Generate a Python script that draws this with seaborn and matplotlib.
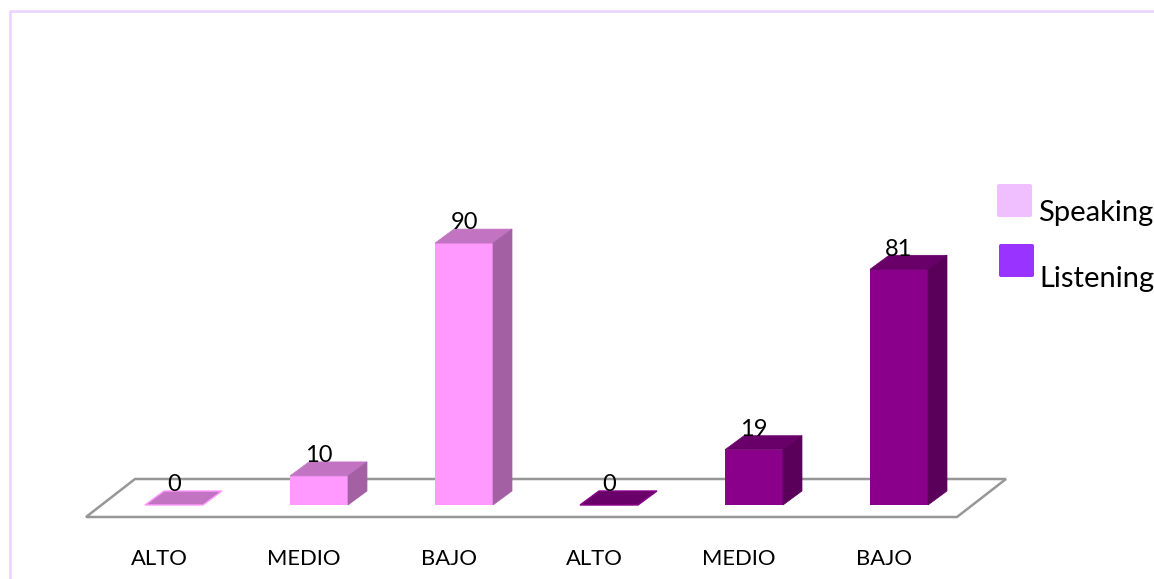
import matplotlib
matplotlib.use("Agg")
import matplotlib.pyplot as plt
import pandas as pd
import seaborn as sns
from matplotlib.patches import FancyBboxPatch, Polygon
from matplotlib.transforms import Affine2D, IdentityTransform, ScaledTranslation

levels = ["ALTO", "MEDIO", "BAJO"]
speaking = [0, 10, 90]
listening = [0, 19, 81]
skills = ["Speaking", "Listening"]

front_colors = {"Speaking": "#FF99FF", "Listening": "#8B008B"}
top_colors = {"Speaking": "#C274C2", "Listening": "#690069"}
side_colors = {"Speaking": "#A361A3", "Listening": "#5A005A"}
legend_colors = {"Speaking": "#F0BFFF", "Listening": "#9933FF"}

W, H = 1154, 579
DEPTH_X, DEPTH_Y = 19, 14

sns.set_style("white")
plt.rcParams["font.family"] = ["Lato", "DejaVu Sans"]

df = pd.DataFrame({
    "slot": range(6),
    "level": levels + levels,
    "skill": ["Speaking"] * 3 + ["Listening"] * 3,
    "value": speaking + listening,
})

fig = plt.figure(figsize=(W / 100, H / 100), dpi=100)
ax = fig.add_axes([101.5 / W, (H - 505) / H, 870 / W, 291 / H])
ax.patch.set_alpha(0)

sns.barplot(
    data=df, x="slot", y="value", hue="skill", hue_order=skills,
    palette=front_colors, saturation=1, dodge=False, width=0.4, legend=False,
    linewidth=0, ax=ax, zorder=3,
)

ax.set_xlim(-0.5, 5.5)
ax.set_ylim(0, 100)
ax.set_xlabel("")
ax.set_ylabel("")
ax.set_yticks([])
ax.set_xticks(df["slot"])
ax.set_xticklabels(df["level"], fontsize=15.8, color="black")
ax.tick_params(axis="x", length=0, pad=31.5)
for lab in ax.get_xticklabels():
    lab.set_transform(lab.get_transform() + ScaledTranslation(-15 / 100, 0, fig.dpi_scale_trans))
sns.despine(ax=ax, left=True, bottom=True)

# image pixels (y down) to display
px = Affine2D().scale(1, -1).translate(0, H)

# floor
floor = Polygon([(86, 517), (957, 517), (1006, 479), (135, 479)], closed=True,
                facecolor="white", edgecolor="#979797", linewidth=1.8,
                transform=px, clip_on=False, zorder=1)
ax.add_patch(floor)

# fake 3D faces
for container, skill in zip(ax.containers, skills):
    for bar in container:
        if pd.isna(bar.get_height()):
            continue
        x0, y0 = ax.transData.transform((bar.get_x(), 0))
        x1, y1 = ax.transData.transform((bar.get_x() + bar.get_width(), bar.get_height()))
        flat = bar.get_height() == 0
        top = Polygon([(x0, y1), (x1, y1), (x1 + DEPTH_X, y1 + DEPTH_Y), (x0 + DEPTH_X, y1 + DEPTH_Y)],
                      closed=True, facecolor=top_colors[skill],
                      edgecolor=front_colors[skill] if flat else top_colors[skill],
                      linewidth=1 if flat else 0.5, transform=IdentityTransform(), clip_on=False, zorder=3)
        side = Polygon([(x1, y0), (x1 + DEPTH_X, y0 + DEPTH_Y), (x1 + DEPTH_X, y1 + DEPTH_Y), (x1, y1)],
                       closed=True, facecolor=side_colors[skill], edgecolor=side_colors[skill],
                       linewidth=0.5, transform=IdentityTransform(), clip_on=False, zorder=3)
        ax.add_patch(top)
        if not flat:
            ax.add_patch(side)
        ax.annotate(f"{bar.get_height():.0f}", (bar.get_x() + bar.get_width() / 2, bar.get_height()),
                    xytext=(0, 14.5), textcoords="offset points", ha="center", va="center",
                    fontsize=17, color="black", zorder=5, annotation_clip=False)

# outer frame, only top and left are inside the crop
fig.add_artist(plt.Line2D([W, 9.5, 9.5], [11, 11, H], color="#E9D3FF", linewidth=1.9, transform=px))

# legend
for skill, (x, y, tx, ty) in zip(skills, [(997, 184, 1038, 213), (999, 244, 1039, 279)]):
    fig.add_artist(FancyBboxPatch((x + 2, y + 2), 31, 29, boxstyle="round,pad=2",
                                  facecolor=legend_colors[skill], edgecolor="none", transform=px))
    fig.text(tx / W, (H - ty) / H, skill, fontsize=21, va="center", ha="left", color="black")

fig.savefig("out.png", dpi=100)
